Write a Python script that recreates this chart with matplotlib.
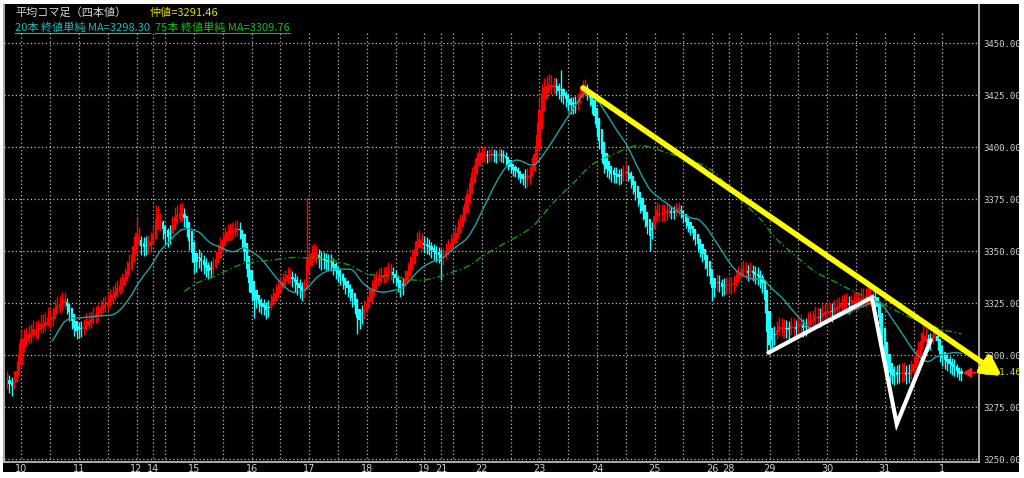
import numpy as np
import pandas as pd
import matplotlib
matplotlib.use('Agg')
import matplotlib.pyplot as plt
from matplotlib.lines import Line2D
from matplotlib.patches import Rectangle

# hourly closes (bar 0 = first bar on the left)
closes = [
    3288, 3284, 3286, 3290, 3295, 3306, 3309, 3307, 3311, 3309, 3312, 3313,
    3311, 3314, 3316, 3314, 3318, 3319, 3316, 3321, 3323, 3325, 3324, 3328,
    3325, 3322, 3319, 3314, 3312, 3311, 3313, 3312, 3315, 3317, 3316, 3318,
    3320, 3319, 3322, 3323, 3325, 3324, 3327, 3328, 3330, 3331, 3333, 3334,
    3336, 3339, 3342, 3346, 3350, 3355, 3360, 3354, 3351, 3353, 3352, 3354,
    3355, 3361, 3368, 3366, 3362, 3359, 3357, 3356, 3360, 3365, 3368, 3367,
    3370, 3368, 3364, 3358, 3352, 3346, 3342, 3347, 3346, 3344, 3343, 3341,
    3340, 3342, 3344, 3348, 3351, 3354, 3357, 3358, 3360, 3359, 3361, 3360,
    3362, 3358, 3354, 3345, 3338, 3331, 3329, 3327, 3326, 3323, 3324, 3322,
    3321, 3324, 3327, 3329, 3331, 3333, 3335, 3336, 3338, 3339, 3337, 3336,
    3334, 3333, 3331, 3330, 3334, 3344, 3348, 3349, 3350, 3347, 3346, 3345,
    3346, 3344, 3345, 3344, 3341, 3340, 3338, 3337, 3334, 3333, 3331, 3329,
    3326, 3322, 3316, 3318, 3321, 3323, 3326, 3330, 3333, 3335, 3337, 3338,
    3339, 3338, 3340, 3341, 3339, 3338, 3336, 3333, 3331, 3335, 3339, 3342,
    3345, 3349, 3353, 3357, 3355, 3354, 3352, 3353, 3351, 3350, 3349, 3348,
    3348, 3346, 3349, 3351, 3353, 3355, 3357, 3360, 3363, 3365, 3370, 3375,
    3380, 3385, 3390, 3393, 3396, 3398, 3397, 3395, 3396, 3396, 3397, 3395,
    3396, 3397, 3395, 3396, 3393, 3391, 3390, 3388, 3389, 3386, 3385, 3384,
    3386, 3385, 3388, 3393, 3400, 3412, 3424, 3428, 3429, 3430, 3431, 3429,
    3430, 3428, 3426, 3425, 3424, 3422, 3421, 3419, 3421, 3420, 3424, 3427,
    3429, 3428, 3425, 3422, 3418, 3412, 3406, 3400, 3393, 3390, 3389, 3388,
    3386, 3387, 3386, 3385, 3387, 3388, 3389, 3386, 3383, 3380, 3377, 3374,
    3371, 3367, 3364, 3360, 3356, 3364, 3370, 3369, 3368, 3369, 3368, 3370,
    3369, 3368, 3369, 3371, 3370, 3368, 3365, 3363, 3361, 3360, 3357, 3355,
    3352, 3350, 3347, 3344, 3340, 3336, 3330, 3334, 3336, 3333, 3332, 3334,
    3333, 3334, 3333, 3336, 3338, 3340, 3341, 3342, 3339, 3340, 3341, 3338,
    3339, 3337, 3336, 3333, 3320, 3304, 3306, 3308, 3311, 3313, 3315, 3312,
    3314, 3311, 3313, 3315, 3312, 3313, 3316, 3314, 3312, 3315, 3317, 3316,
    3318, 3320, 3317, 3319, 3321, 3320, 3322, 3320, 3321, 3324, 3322, 3325,
    3324, 3326, 3325, 3323, 3326, 3327, 3325, 3327, 3328, 3327, 3328, 3329,
    3328, 3329, 3326, 3320, 3310, 3302, 3297, 3293, 3290, 3291, 3289, 3292,
    3290, 3293, 3291, 3290, 3292, 3294, 3297, 3300, 3304, 3309, 3311, 3307,
    3305, 3308, 3311, 3310, 3303, 3298, 3299, 3296, 3297, 3294, 3295, 3293,
    3292, 3290, 3291.46,
]

# typical hourly high-low range for each half day (12 bars), read from band thickness
half_day_range = [9, 9, 8, 8, 9, 9, 9, 8, 8, 8, 9, 8, 9, 8, 8, 8, 6,
                  6, 9, 8, 8, 8, 8, 6, 8, 8, 9, 9, 9, 9, 9, 9, 8, 6]

# long wicks visible on the chart
spike_bars = [2, 29, 54, 62, 72, 78, 103, 125, 146, 181, 199, 231, 268, 294, 317, 369, 383]
spike_vals = [3282, 3309, 3366, 3372, 3373, 3340, 3318, 3376, 3310, 3336, 3400, 3437, 3350, 3326, 3301, 3287, 3313]

day_labels = ['10', '11', '12', '14', '15', '16', '17', '18', '19', '21',
              '22', '23', '24', '25', '26', '28', '29', '30', '31', '1']
day_bars = [6, 30, 54, 61, 78, 102, 126, 150, 174, 181,
            198, 222, 246, 270, 294, 301, 318, 342, 366, 390]
grid_bars = list(range(6, 391, 12)) + [61, 181, 301]
price_ticks = [3250, 3275, 3300, 3325, 3350, 3375, 3400, 3425, 3450]

trend_bars = [240.2, 414.8]
trend_vals = [3428.4, 3289.9]
zigzag_bars = [317.5, 360.6, 371.0, 385.2]
zigzag_vals = [3301.1, 3327.7, 3266.8, 3307.2]

mid_price = 3291.46
ma20_label = 3298.30
ma75_label = 3309.76

# heikin-ashi from the closes
c = np.array(closes, dtype=float)
n = len(c)
x = np.arange(n)
o = np.r_[c[0], c[:-1]]
rng = np.array(half_day_range, dtype=float)[x // 12]
mid = (o + c) / 2
h = np.maximum(np.maximum(o, c), mid + rng / 2)
l = np.minimum(np.minimum(o, c), mid - rng / 2)
for b, v in zip(spike_bars, spike_vals):
    h[b] = max(h[b], v)
    l[b] = min(l[b], v)
ha_c = (o + h + l + c) / 4
ha_o = np.empty(n)
ha_o[0] = (o[0] + c[0]) / 2
for i in range(1, n):
    ha_o[i] = (ha_o[i - 1] + ha_c[i - 1]) / 2
ha_h = np.maximum.reduce([h, ha_o, ha_c])
ha_l = np.minimum.reduce([l, ha_o, ha_c])
up = ha_c >= ha_o
cols = np.where(up, '#ff0000', '#20ffff')

s = pd.Series(c)
ma20 = s.rolling(20).mean()
ma75 = s.rolling(75).mean()

W, H = 1024, 478
fig = plt.figure(figsize=(W / 100, H / 100), dpi=100)
fig.patch.set_facecolor('white')
fig.add_artist(Rectangle((3 / W, (H - 472) / H), 1016 / W, 468 / H,
                         transform=fig.transFigure, facecolor='black', edgecolor='none', zorder=0))

ax = fig.add_axes([4 / W, (H - 462) / H, 975 / W, 458 / H])
ax.set_facecolor('black')
ax.set_xlim(-1.25, 405.3)
ax.set_ylim(3248.56, 3468.75)

for p in price_ticks:
    ax.axhline(p, color='#b8b8b8', lw=0.9, ls=(0, (1, 2)), zorder=1)
for b in grid_bars:
    ax.axvline(b, ymax=0.937, color='#b8b8b8', lw=0.9, ls=(0, (1, 2)), zorder=1)

ax.vlines(x, ha_l, ha_h, colors=cols, lw=1.0, zorder=2)
body_lo = np.minimum(ha_o, ha_c)
body_h = np.maximum(np.abs(ha_c - ha_o), 0.5)
ax.bar(x, body_h, bottom=body_lo, width=0.95, color=cols, zorder=2)

ax.plot(x, ma20, color='#1fa3a3', lw=1.0, zorder=3)
ax.plot(x, ma75, color='#119a11', lw=1.0, ls=(0, (5, 2, 1, 2)), zorder=3)

ax.plot(zigzag_bars, zigzag_vals, color='white', lw=3, solid_capstyle='round',
        solid_joinstyle='miter', zorder=5)
ax.annotate('', xy=(trend_bars[1], trend_vals[1]), xytext=(trend_bars[0], trend_vals[0]),
            arrowprops=dict(arrowstyle='-|>,head_length=1.1,head_width=0.6', color='#ffff00',
                            lw=4, shrinkA=0, shrinkB=0),
            annotation_clip=False, zorder=6)

# current price marker
ax.text(1.004, mid_price, f'{mid_price:.2f}', transform=ax.get_yaxis_transform(),
        color='#e0e000', fontsize=6.5, family='DejaVu Sans Mono', va='center', ha='left', zorder=4)
ax.annotate('', xy=(398.6, mid_price), xytext=(404.6, mid_price),
            arrowprops=dict(arrowstyle='-|>,head_length=0.5,head_width=0.3', color='#ff2020', lw=1.2,
                            shrinkA=0, shrinkB=0),
            annotation_clip=False, zorder=4)

ax.yaxis.tick_right()
ax.set_yticks(price_ticks)
ax.set_yticklabels([f'{p:.2f}' for p in price_ticks], family='DejaVu Sans Mono')
ax.tick_params(axis='y', length=0, pad=3, labelsize=6.5, labelcolor='#d0d0d0')
ax.set_xticks(day_bars)
ax.set_xticklabels(day_labels)
ax.tick_params(axis='x', length=0, pad=1.5, labelsize=7, labelcolor='#d0d0d0')
for side in ['left', 'right', 'bottom']:
    ax.spines[side].set_color('#c8c8c8')
    ax.spines[side].set_linewidth(1.2)
ax.spines['top'].set_visible(False)

jp = ['Noto Sans CJK JP', 'DejaVu Sans']
fig.text(15 / W, 1 - 13 / H, '平均コマ足（四本値）', color='#d8d8d8', fontsize=8, family=jp, va='center')
fig.text(150 / W, 1 - 13 / H, f'仲値={mid_price:.2f}', color='#e0e000', fontsize=8, family=jp, va='center')
t1 = fig.text(15 / W, 1 - 27 / H, f'20本 終値単純 MA={ma20_label:.2f}', color='#10c0c0',
              fontsize=8, family=jp, va='center')
t2 = fig.text(155 / W, 1 - 27 / H, f'75本 終値単純 MA={ma75_label:.2f}', color='#10c010',
              fontsize=8, family=jp, va='center')

fig.canvas.draw()
for t in (t1, t2):
    bb = t.get_window_extent()
    yy = (bb.y0 - 1) / H
    fig.add_artist(Line2D([bb.x0 / W, bb.x1 / W], [yy, yy], transform=fig.transFigure,
                          color=t.get_color(), lw=0.8))

fig.savefig('out.png', dpi=100, facecolor=fig.get_facecolor())
